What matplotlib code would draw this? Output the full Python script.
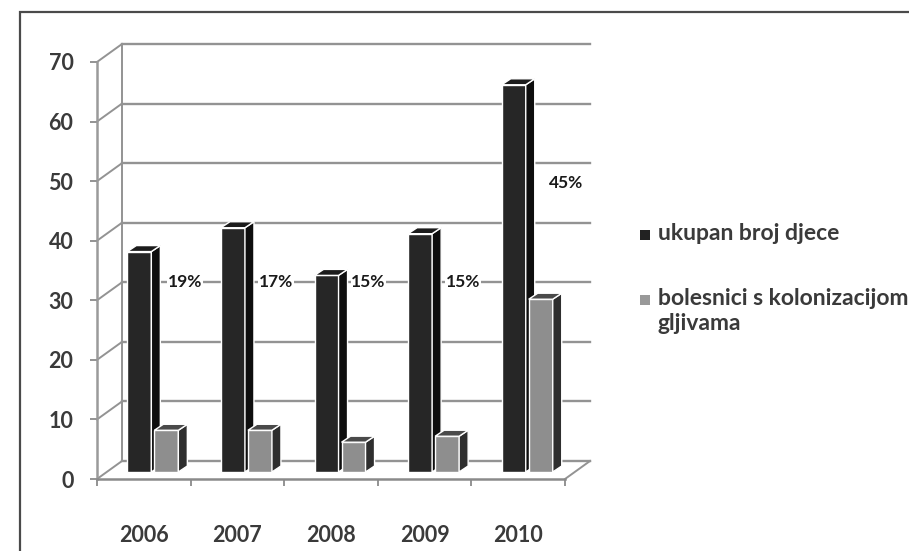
import matplotlib
matplotlib.use("Agg")
import matplotlib.pyplot as plt
from matplotlib.patches import Polygon, Rectangle

plt.rcParams['font.family'] = ['Lato', 'DejaVu Sans']

years = ['2006', '2007', '2008', '2009', '2010']
total_children = [37, 41, 33, 40, 65]
colonized = [7, 7, 5, 6, 29]
pct_labels = ['19%', '17%', '15%', '15%', '45%']
legend_labels = ['ukupan broj djece', 'bolesnici s kolonizacijom\ngljivama']
yticks = [0, 10, 20, 30, 40, 50, 60, 70]

W, H = 909, 551
fig = plt.figure(figsize=(W / 100, H / 100), dpi=100)
ax = fig.add_axes([97 / W, (H - 479) / H, 468 / W, 417 / H])
ax.set_xlim(0, len(years))
ax.set_ylim(0, 70)

# outer frame
fig.add_artist(Rectangle((20 / W, -0.1), 2, 1 - 12 / H + 0.1, transform=fig.transFigure,
                         fill=False, ec='#4a4a4a', lw=1.6))

# pseudo-3D geometry (data units)
cw = 468 / len(years)      # px per category
vu = 417 / 70              # px per value
DX, DY = 25 / cw, 18 / vu  # wall depth
SX, SY = 0.39 * DX, 0.39 * DY  # bar mid-depth shift
BDX, BDY = 9 / cw, 6 / vu  # bar depth
BW = 24 / cw
GAP = 3 / cw

grid_c = '#939393'
# back wall gridlines & diagonals
for v in yticks:
    ax.plot([DX, len(years) + DX], [v + DY, v + DY], color=grid_c, lw=1.7, clip_on=False, zorder=1)
    ax.plot([0, DX], [v, v + DY], color=grid_c, lw=1.4, clip_on=False, zorder=1)
ax.plot([DX, DX], [DY, 70 + DY], color=grid_c, lw=1.4, clip_on=False, zorder=1)
ax.plot([len(years), len(years) + DX], [0, DY], color=grid_c, lw=1.4, clip_on=False, zorder=1)


def bar3d(left, v, front, side, top, z):
    yb = SY
    ax.bar(left, v, width=BW, bottom=yb, align='edge', color=front, edgecolor='white',
           lw=1.0, zorder=z)
    ax.add_patch(Polygon([(left + BW, yb), (left + BW + BDX, yb + BDY),
                          (left + BW + BDX, yb + v + BDY), (left + BW, yb + v)],
                         closed=True, fc=side, ec='white', lw=1.0, zorder=z))
    ax.add_patch(Polygon([(left, yb + v), (left + BW, yb + v),
                          (left + BW + BDX, yb + v + BDY), (left + BDX, yb + v + BDY)],
                         closed=True, fc=top, ec='white', lw=1.0, zorder=z + 0.1))


for i in range(len(years)):
    L = i + 0.22 + SX
    bar3d(L, total_children[i], '#262626', '#0e0e0e', '#1c1c1c', 4 + i)
    bar3d(L + BW + GAP, colonized[i], '#8e8e8e', '#2e2e2e', '#4a4a4a', 4.5 + i)

# percentage labels on back wall
pct_x = [0.94, 1.91, 2.90, 3.91, 5.01]
pct_y = [33.1, 33.1, 33.1, 33.1, 49.7]
for x, y, t in zip(pct_x, pct_y, pct_labels):
    ax.text(x, y, t, ha='center', va='center', fontsize=12.5, fontweight='bold', color='#1a1a1a',
            bbox=dict(fc='white', ec='none', pad=0.5), zorder=2)

# axes styling
for s in ['top', 'right']:
    ax.spines[s].set_visible(False)
ax.spines['left'].set_color('#9a9a9a')
ax.spines['left'].set_linewidth(1.8)
ax.spines['bottom'].set_color('#8a8a8a')
ax.spines['bottom'].set_linewidth(1.8)
ax.set_yticks(yticks)
ax.set_yticklabels([str(v) for v in yticks])
ax.tick_params(axis='y', length=5, width=1.3, color='#8a8a8a', pad=12, labelsize=15.5,
               labelcolor='#3a3a3a')
ax.set_xticks([i + 0.5 for i in range(len(years))])
ax.set_xticklabels(years)
ax.set_xticks(range(len(years) + 1), minor=True)
ax.tick_params(axis='x', which='major', length=0, pad=33, labelsize=15.5, labelcolor='#3a3a3a')
ax.tick_params(axis='x', which='minor', length=5, width=1.3, color='#8a8a8a')
for lab in ax.get_xticklabels() + ax.get_yticklabels():
    lab.set_fontweight('bold')
ax.patch.set_visible(False)

# legend (manual)
leg_y = [235, 300]
leg_cols = ['#222222', '#999999']
for y, c, t in zip(leg_y, leg_cols, legend_labels):
    fig.add_artist(Rectangle((640 / W, 1 - (y + 5) / H), 10 / W, 10 / H,
                             transform=fig.transFigure, fc=c, ec='none'))
    fig.text(658 / W, 1 - (y - 12) / H, t, ha='left', va='top', fontsize=16.5,
             fontweight='bold', color='#3a3a3a', linespacing=1.25)

fig.savefig('out.png', dpi=100)
